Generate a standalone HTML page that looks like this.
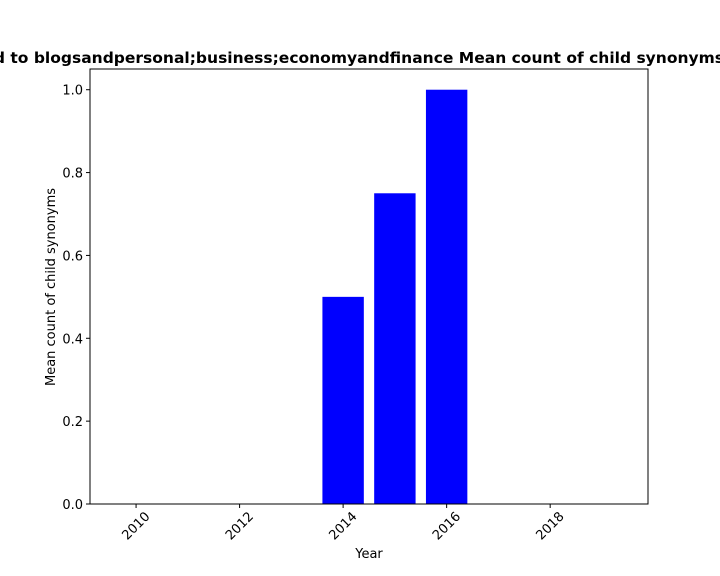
<!DOCTYPE html>
<html><head><meta charset="utf-8"><style>body{margin:0;background:#fff}svg{display:block}text{font-family:"DejaVu Sans","Liberation Sans",sans-serif}</style></head>
<body>
<svg id="chart" width="720" height="576" xmlns="http://www.w3.org/2000/svg">
<text x="724" y="63" text-anchor="end" font-size="15.5" font-weight="bold">Related to blogsandpersonal;business;economyandfinance Mean count of child synonyms</text>
<g id="marks"></g>
<rect x="90" y="69" width="558" height="435" fill="none" stroke="#000" stroke-width="1"/>
<text x="369" y="558" text-anchor="middle" font-size="13">Year</text>
<text transform="translate(55,287) rotate(-90)" text-anchor="middle" font-size="13">Mean count of child synonyms</text>
</svg>
<script>
const years=[2010,2011,2012,2013,2014,2015,2016,2017,2018,2019];
const values=[0,0,0,0,0.5,0.75,1.0,0,0,0];
const xTicks=[2010,2012,2014,2016,2018];
const yTicks=[0,0.2,0.4,0.6,0.8,1.0];
const X0=90,X1=648,Y0=504,Y1=69;
const xmin=2009.11,xmax=2019.89,ymin=0,ymax=1.05;
const xs=v=>X0+(v-xmin)/(xmax-xmin)*(X1-X0);
const ys=v=>Y0-(v-ymin)/(ymax-ymin)*(Y0-Y1);
const g=document.getElementById('marks');
const NS='http://www.w3.org/2000/svg';
function mk(t,a){const e=document.createElementNS(NS,t);for(const k in a)e.setAttribute(k,a[k]);g.appendChild(e);return e;}
years.forEach((y,i)=>{
 const w=xs(y+0.4)-xs(y-0.4);
 const r=mk('rect',{x:xs(y-0.4),y:ys(values[i]),width:w,height:Math.max(0,ys(0)-ys(values[i])),fill:'#0000ff'});
 
 
});
xTicks.forEach(t=>{
 const x=xs(t);
 const l=mk('line',{x1:x,x2:x,y1:Y0,y2:Y0+4,stroke:'#000'});
 
 
 const cy=Y0+22;
 const tx=mk('text',{x:x,y:cy+4,'font-size':13,'text-anchor':'middle',transform:`rotate(-45 ${x} ${cy})`});
 tx.textContent=t;
 
 
});
yTicks.forEach(t=>{
 const y=ys(t);
 const l=mk('line',{x1:X0-4,x2:X0,y1:y,y2:y,stroke:'#000'});
 
 
 const tx=mk('text',{x:X0-7,y:y+5,'font-size':13,'text-anchor':'end'});
 tx.textContent=t.toFixed(1);
 
 
});
</script>
</body></html>
